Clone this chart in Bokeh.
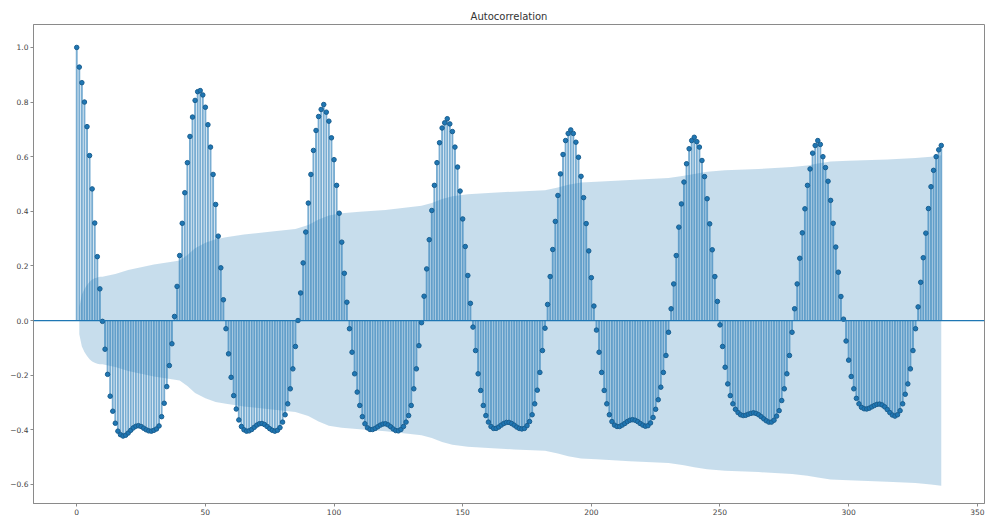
from bokeh.plotting import figure
from bokeh.models import Span, FixedTicker, Range1d, CustomJSTickFormatter
from bokeh.embed import file_html
from bokeh.resources import INLINE

# ---- data ----
acf_cycle0 = [1.0, 0.928, 0.871, 0.80, 0.71, 0.604, 0.482, 0.357, 0.234, 0.116,
              -0.003, -0.105, -0.197, -0.277, -0.332, -0.376, -0.405, -0.418, -0.423, -0.42,
              -0.412, -0.402, -0.393, -0.387, -0.385, -0.388, -0.394, -0.40, -0.404, -0.405,
              -0.402, -0.397, -0.386, -0.352, -0.303, -0.242, -0.165, -0.085, 0.015, 0.125,
              0.238, 0.356, 0.468, 0.578, 0.674, 0.745, 0.806, 0.838]
acf_cycle1 = [0.842, 0.826, 0.781, 0.717, 0.635, 0.535, 0.425, 0.309, 0.193, 0.076,
              -0.03, -0.122, -0.208, -0.275, -0.324, -0.364, -0.388, -0.40, -0.405, -0.404,
              -0.399, -0.391, -0.383, -0.378, -0.377, -0.381, -0.388, -0.396, -0.402, -0.405,
              -0.402, -0.392, -0.372, -0.345, -0.305, -0.25, -0.177, -0.095, 0.0, 0.101,
              0.211, 0.324, 0.43, 0.535, 0.623, 0.696, 0.747, 0.773]
acf_cycle2 = [0.791, 0.763, 0.73, 0.669, 0.589, 0.495, 0.393, 0.287, 0.173, 0.067,
              -0.03, -0.116, -0.195, -0.262, -0.311, -0.352, -0.378, -0.393, -0.399, -0.399,
              -0.395, -0.389, -0.383, -0.379, -0.378, -0.382, -0.389, -0.397, -0.403, -0.404,
              -0.399, -0.388, -0.372, -0.348, -0.311, -0.25, -0.177, -0.092, -0.008, 0.089,
              0.189, 0.296, 0.403, 0.495, 0.578, 0.651, 0.705, 0.724]
acf_cycle3 = [0.739, 0.72, 0.692, 0.635, 0.562, 0.474, 0.372, 0.271, 0.165, 0.063,
              -0.024, -0.11, -0.195, -0.256, -0.311, -0.348, -0.372, -0.388, -0.395, -0.395,
              -0.39, -0.383, -0.377, -0.373, -0.373, -0.377, -0.383, -0.39, -0.395, -0.397,
              -0.395, -0.385, -0.37, -0.345, -0.305, -0.255, -0.19, -0.11, -0.028, 0.059,
              0.161, 0.26, 0.363, 0.458, 0.537, 0.608, 0.659, 0.685]
acf_cycle4 = [0.698, 0.685, 0.653, 0.598, 0.528, 0.45, 0.355, 0.255, 0.157, 0.053,
              -0.035, -0.116, -0.19, -0.256, -0.305, -0.345, -0.37, -0.383, -0.388, -0.388,
              -0.383, -0.377, -0.37, -0.365, -0.363, -0.365, -0.37, -0.377, -0.383, -0.387,
              -0.385, -0.375, -0.355, -0.325, -0.29, -0.244, -0.19, -0.128, -0.043, 0.043,
              0.134, 0.238, 0.342, 0.427, 0.507, 0.574, 0.629, 0.659]
acf_cycle5 = [0.671, 0.655, 0.635, 0.586, 0.527, 0.446, 0.354, 0.259, 0.161, 0.07,
              -0.016, -0.095, -0.171, -0.232, -0.275, -0.305, -0.325, -0.337, -0.345, -0.348,
              -0.347, -0.343, -0.34, -0.338, -0.34, -0.345, -0.352, -0.36, -0.367, -0.372,
              -0.372, -0.365, -0.35, -0.33, -0.293, -0.25, -0.195, -0.128, -0.043, 0.043,
              0.134, 0.228, 0.321, 0.409, 0.495, 0.555, 0.613, 0.641]
acf_cycle6 = [0.659, 0.645, 0.60, 0.56, 0.51, 0.44, 0.356, 0.269, 0.177, 0.088,
              0.005, -0.075, -0.145, -0.205, -0.25, -0.285, -0.305, -0.318, -0.323, -0.324,
              -0.321, -0.316, -0.311, -0.307, -0.306, -0.309, -0.316, -0.326, -0.337, -0.346,
              -0.35, -0.345, -0.33, -0.305, -0.27, -0.232, -0.177, -0.11, -0.03, 0.05,
              0.14, 0.23, 0.32, 0.41, 0.49, 0.55, 0.60, 0.625]
acf_last = [0.641]

# confidence band half-width (sampled lags)
band_lags = [1, 2, 3, 4, 5, 6, 7, 8, 9, 10, 15, 20, 25, 30, 37, 40, 43, 46, 50, 54,
             58, 65, 75, 85, 90, 94, 98, 103, 110, 120, 134, 138, 142, 146, 152, 160,
             170, 182, 187, 191, 196, 202, 215, 230, 236, 240, 245, 252, 265, 278, 284,
             288, 293, 300, 315, 326, 332, 336]
band_half = [0.05, 0.095, 0.115, 0.13, 0.142, 0.15, 0.155, 0.158, 0.16, 0.16, 0.17,
             0.185, 0.195, 0.205, 0.215, 0.22, 0.24, 0.265, 0.285, 0.298, 0.305, 0.315,
             0.325, 0.335, 0.35, 0.37, 0.385, 0.393, 0.398, 0.405, 0.42, 0.43, 0.445,
             0.455, 0.462, 0.467, 0.472, 0.477, 0.487, 0.497, 0.505, 0.508, 0.515, 0.522,
             0.53, 0.537, 0.545, 0.55, 0.555, 0.562, 0.568, 0.575, 0.582, 0.585, 0.59,
             0.595, 0.60, 0.605]

x_ticks = [0, 50, 100, 150, 200, 250, 300, 350]
y_ticks = [-0.6, -0.4, -0.2, 0.0, 0.2, 0.4, 0.6, 0.8, 1.0]

acf = (acf_cycle0 + acf_cycle1 + acf_cycle2 + acf_cycle3 + acf_cycle4
       + acf_cycle5 + acf_cycle6 + acf_last)
lags = list(range(len(acf)))

C0 = "#1f77b4"
FONT = "DejaVu Sans"

p = figure(frame_width=951, frame_height=479, output_backend="svg", toolbar_location=None,
           x_range=Range1d(-16.8, 352.8), y_range=Range1d(-0.670, 1.084),
           title="Autocorrelation",
           min_border_left=33, min_border_right=3, min_border_top=24, min_border_bottom=0)

p.title.align = "center"
p.title.text_font = FONT
p.title.text_font_size = "10px"
p.title.text_font_style = "normal"
p.title.text_color = "#333333"
p.title.standoff = 6

p.grid.visible = False
p.outline_line_color = "#8a8a8a"
p.outline_line_width = 1
p.background_fill_color = "white"
p.border_fill_color = "white"

for ax in (p.xaxis, p.yaxis):
    ax.axis_line_color = "#8a8a8a"
    ax.major_tick_line_color = "#8a8a8a"
    ax.major_tick_in = 0
    ax.major_tick_out = 3
    ax.minor_tick_line_color = None
    ax.major_label_text_font = FONT
    ax.major_label_text_font_size = "7.5px"
    ax.major_label_text_color = "#444444"
    ax.major_label_standoff = 2
    ax.axis_label = None
    ax.axis_label_standoff = 0

p.xaxis.ticker = FixedTicker(ticks=x_ticks)
p.yaxis.ticker = FixedTicker(ticks=y_ticks)
p.yaxis.formatter = CustomJSTickFormatter(code="return tick.toFixed(1).replace('-', '\u2212');")

# confidence band
p.varea(x=band_lags, y1=[-h for h in band_half], y2=band_half,
        fill_color=C0, fill_alpha=0.25)

# stems
p.segment(x0=lags, y0=[0] * len(lags), x1=lags, y1=acf,
          line_color=C0, line_width=1.9, line_alpha=0.6)

# markers
p.scatter(lags, acf, size=4.5, fill_color=C0, line_color="#1b5f90")

# zero line
p.add_layout(Span(location=0, dimension="width", line_color=C0, line_width=1.3))

open("out.html", "w").write(file_html(p, INLINE))
